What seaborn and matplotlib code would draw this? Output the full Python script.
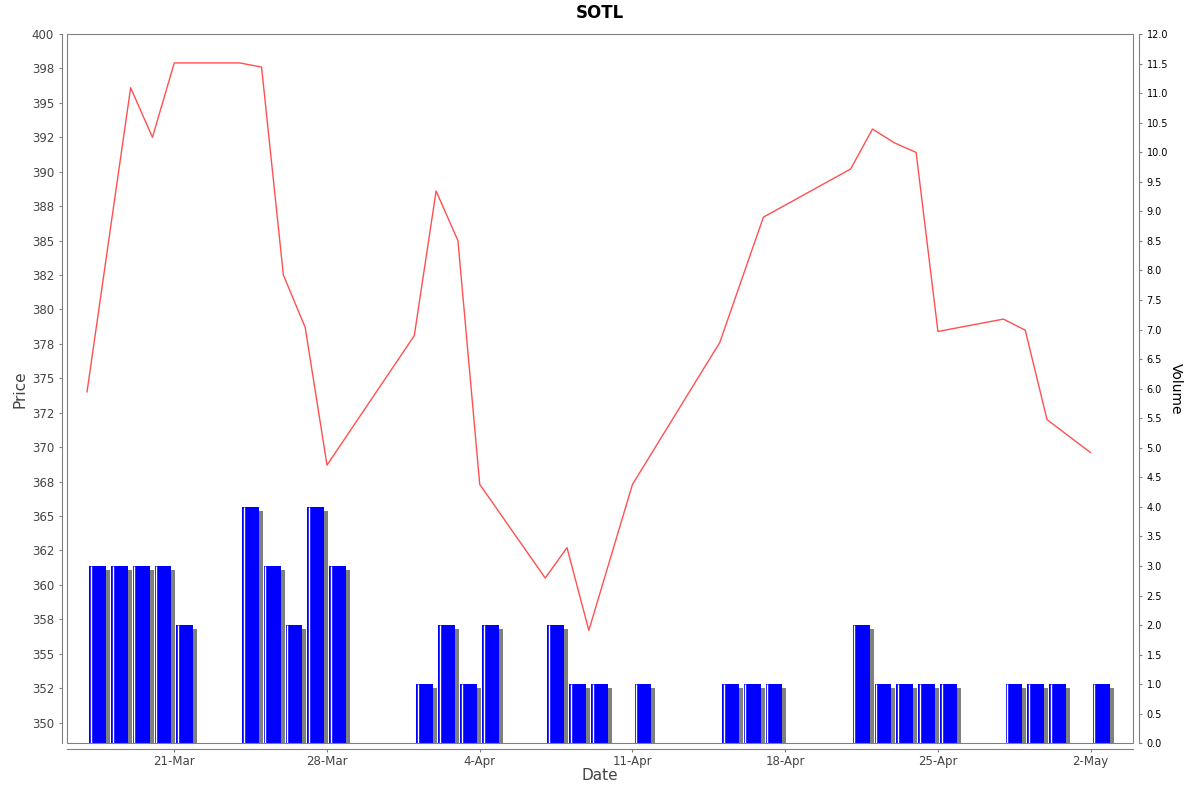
import matplotlib
matplotlib.use("Agg")
import matplotlib.pyplot as plt
from matplotlib.transforms import ScaledTranslation
from matplotlib.patches import Rectangle
import seaborn as sns
import pandas as pd

# ---------------- data ----------------
price_dates = ["2025-03-17", "2025-03-19", "2025-03-20", "2025-03-21", "2025-03-24",
               "2025-03-25", "2025-03-26", "2025-03-27", "2025-03-28", "2025-04-01",
               "2025-04-02", "2025-04-03", "2025-04-04", "2025-04-07", "2025-04-08",
               "2025-04-09", "2025-04-11", "2025-04-15", "2025-04-17", "2025-04-21",
               "2025-04-22", "2025-04-23", "2025-04-24", "2025-04-25", "2025-04-28",
               "2025-04-29", "2025-04-30", "2025-05-02"]
prices = [374.0, 396.1, 392.5, 397.9, 397.9,
          397.6, 382.5, 378.7, 368.7, 378.1,
          388.6, 385.0, 367.3, 360.5, 362.7,
          356.7, 367.3, 377.6, 386.7, 390.2,
          393.1, 392.1, 391.4, 378.4, 379.3,
          378.5, 372.0, 369.6]

volume_dates = ["2025-03-17", "2025-03-18", "2025-03-19", "2025-03-20", "2025-03-21",
                "2025-03-24", "2025-03-25", "2025-03-26", "2025-03-27", "2025-03-28",
                "2025-04-01", "2025-04-02", "2025-04-03", "2025-04-04",
                "2025-04-07", "2025-04-08", "2025-04-09",
                "2025-04-11",
                "2025-04-15", "2025-04-16", "2025-04-17",
                "2025-04-21", "2025-04-22", "2025-04-23", "2025-04-24", "2025-04-25",
                "2025-04-28", "2025-04-29", "2025-04-30",
                "2025-05-02"]
volumes = [3, 3, 3, 3, 2,
           4, 3, 2, 4, 3,
           1, 2, 1, 2,
           2, 1, 1,
           1,
           1, 1, 1,
           2, 1, 1, 1, 1,
           1, 1, 1,
           1]

price_ticks = [350, 352.5, 355, 357.5, 360, 362.5, 365, 367.5, 370, 372.5, 375,
               377.5, 380, 382.5, 385, 387.5, 390, 392.5, 395, 397.5, 400]
price_tick_labels = ["350", "352", "355", "358", "360", "362", "365", "368", "370",
                     "372", "375", "378", "380", "382", "385", "388", "390", "392",
                     "395", "398", "400"]
volume_ticks = [0.0, 0.5, 1.0, 1.5, 2.0, 2.5, 3.0, 3.5, 4.0, 4.5, 5.0, 5.5, 6.0,
                6.5, 7.0, 7.5, 8.0, 8.5, 9.0, 9.5, 10.0, 10.5, 11.0, 11.5, 12.0]
volume_tick_labels = ["0.0", "0.5", "1.0", "1.5", "2.0", "2.5", "3.0", "3.5", "4.0",
                      "4.5", "5.0", "5.5", "6.0", "6.5", "7.0", "7.5", "8.0", "8.5",
                      "9.0", "9.5", "10.0", "10.5", "11.0", "11.5", "12.0"]
date_ticks = ["2025-03-21", "2025-03-28", "2025-04-04", "2025-04-11",
              "2025-04-18", "2025-04-25", "2025-05-02"]
date_tick_labels = ["21-Mar", "28-Mar", "4-Apr", "11-Apr", "18-Apr", "25-Apr", "2-May"]

# ---------------- style ----------------
sns.set_theme(style="white")
plt.rcParams["font.family"] = ["DejaVu Sans"]

W, H, DPI = 1200, 792, 100
fig = plt.figure(figsize=(W / DPI, H / DPI), dpi=DPI)
fig.patch.set_facecolor("white")

L, R, T, B = 67.3, 1133.3, 34.0, 743.3
ax = fig.add_axes([L / W, 1 - B / H, (R - L) / W, (B - T) / H])
axv = ax.twinx()
ax.set_zorder(2)
axv.set_zorder(1)
ax.patch.set_visible(False)
axv.patch.set_visible(False)

gray = "#808080"

# ---------------- volume bars ----------------
vd = pd.to_datetime(volume_dates)
bar_left = vd + pd.Timedelta(hours=2.4)
bar_w = 0.77
shadow = axv.bar(bar_left, volumes, width=bar_w, align="edge",
                 color="#808080", linewidth=0, zorder=1)
offset = ScaledTranslation(4 / DPI, -4 / DPI, fig.dpi_scale_trans)
for p in shadow:
    p.set_transform(axv.transData + offset)
axv.bar(bar_left, volumes, width=bar_w, align="edge",
        color="#0000ff", linewidth=0, zorder=2)
axv.vlines(bar_left, 0, volumes, colors="white", linewidth=1.0, zorder=3,
           transform=axv.transData + ScaledTranslation(1.6 / DPI, 0, fig.dpi_scale_trans))

# ---------------- price line ----------------
pdx = pd.to_datetime(price_dates)
sns.lineplot(x=pdx, y=prices, ax=ax, color="#ff5050", linewidth=1.0)

# ---------------- axes ----------------
ax.set_xlim(pd.Timestamp("2025-03-16 02:20"), pd.Timestamp("2025-05-03 22:53"))
ax.set_ylim(348.5, 400)
axv.set_ylim(0, 12)

ax.set_yticks(price_ticks)
ax.set_yticklabels(price_tick_labels)
axv.set_yticks(volume_ticks)
axv.set_yticklabels(volume_tick_labels)
ax.set_xticks(pd.to_datetime(date_ticks))
ax.set_xticklabels(date_tick_labels)

ax.set_xlabel("")
ax.set_ylabel("")
axv.set_ylabel("")

for s in ["top", "right"]:
    ax.spines[s].set_visible(False)
for s in ["left", "bottom"]:
    ax.spines[s].set_position(("outward", 4))
    ax.spines[s].set_color(gray)
    ax.spines[s].set_linewidth(0.8)
for s in ["left", "top", "bottom"]:
    axv.spines[s].set_visible(False)
axv.spines["right"].set_position(("outward", 4))
axv.spines["right"].set_color(gray)
axv.spines["right"].set_linewidth(0.8)

ax.add_patch(Rectangle((0, 0), 1, 1, transform=ax.transAxes, fill=False,
                       edgecolor=gray, linewidth=0.8, clip_on=False, zorder=5))

ax.tick_params(axis="y", which="major", left=True, length=2.5, width=0.8,
               color=gray, labelcolor="#444444", labelsize=8.5, pad=3)
ax.tick_params(axis="x", which="major", bottom=True, length=2.5, width=0.8,
               color=gray, labelcolor="#444444", labelsize=8.5, pad=2)
axv.tick_params(axis="y", which="major", right=True, length=2.5, width=0.8,
                color=gray, labelcolor="black", labelsize=7, pad=3)
ax.grid(False)
axv.grid(False)

# ---------------- texts ----------------
fig.text(0.5, 1 - 13 / H, "SOTL", ha="center", va="center",
         fontsize=12, fontweight="bold", color="black")
fig.text(20 / W, 1 - 389 / H, "Price", rotation=90, ha="center", va="center",
         fontsize=11, color="#444444")
fig.text(600 / W, 1 - 776 / H, "Date", ha="center", va="center",
         fontsize=11, color="#444444")
fig.text(1176 / W, 1 - 389 / H, "Volume", rotation=270, ha="center", va="center",
         fontsize=10, color="black")

fig.savefig("out.png", dpi=DPI)
